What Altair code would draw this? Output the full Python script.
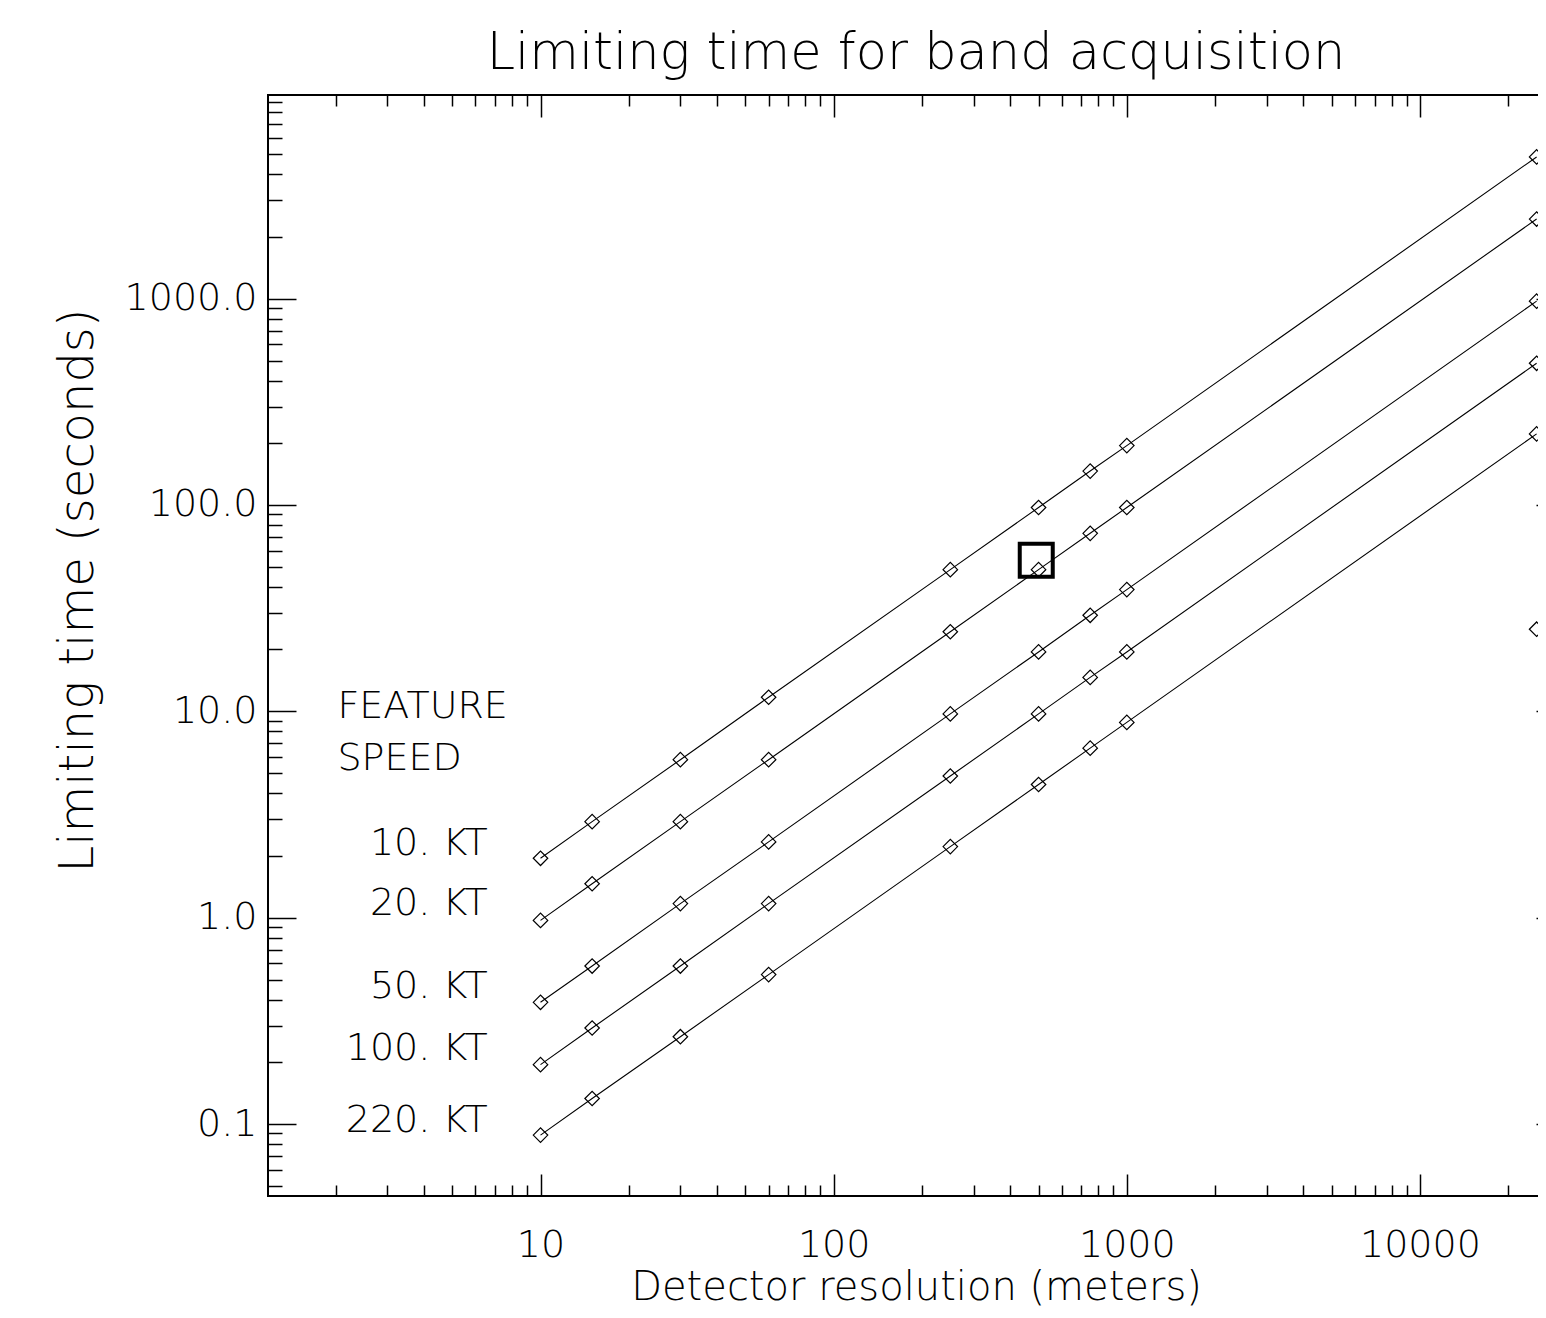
import altair as alt
import pandas as pd

FONT = "DejaVu Sans"
WEIGHT = 200

# ---------------- data ----------------
resolution_m = [10, 15, 30, 60, 250, 500, 750, 1000, 25000]
speed_names = ["10 KT", "20 KT", "50 KT", "100 KT", "220 KT"]
time_10kt = [1.94, 2.92, 5.83, 11.7, 48.6, 97.2, 146, 194, 4860]
time_20kt = [0.97, 1.46, 2.92, 5.83, 24.3, 48.6, 72.9, 97.2, 2430]
time_50kt = [0.389, 0.583, 1.17, 2.33, 9.72, 19.4, 29.2, 38.9, 972]
time_100kt = [0.194, 0.292, 0.583, 1.17, 4.86, 9.72, 14.6, 19.4, 486]
time_220kt = [0.0884, 0.133, 0.265, 0.530, 2.21, 4.42, 6.63, 8.84, 221]

extra_x = [25000]
extra_y = [25]
highlight_x = [491]
highlight_y = [54]

header_text = ["FEATURE", "SPEED"]
header_x = [2.03, 2.03]
header_y = [10.5, 5.9]
kt_text = ["10. KT", "20. KT", "50. KT", "100. KT", "220. KT"]
kt_x = [6.6, 6.6, 6.6, 6.6, 6.6]
kt_y = [2.28, 1.16, 0.46, 0.23, 0.103]

x_major = [10, 100, 1000, 10000]
x_minor = [2, 3, 4, 5, 6, 7, 8, 9,
           20, 30, 40, 50, 60, 70, 80, 90,
           200, 300, 400, 500, 600, 700, 800, 900,
           2000, 3000, 4000, 5000, 6000, 7000, 8000, 9000,
           20000, 30000]
y_major = [0.1, 1, 10, 100, 1000]
y_minor = [0.05, 0.06, 0.07, 0.08, 0.09,
           0.2, 0.3, 0.4, 0.5, 0.6, 0.7, 0.8, 0.9,
           2, 3, 4, 5, 6, 7, 8, 9,
           20, 30, 40, 50, 60, 70, 80, 90,
           200, 300, 400, 500, 600, 700, 800, 900,
           2000, 3000, 4000, 5000, 6000, 7000, 8000, 9000]

# ---------------- tables ----------------
series = [time_10kt, time_20kt, time_50kt, time_100kt, time_220kt]
rows = []
for name, vals in zip(speed_names, series):
    for r, t in zip(resolution_m, vals):
        rows.append({"resolution": r, "time": t, "speed": name})
df = pd.DataFrame(rows)
df_extra = pd.DataFrame({"resolution": extra_x, "time": extra_y})
df_sq = pd.DataFrame({"resolution": highlight_x, "time": highlight_y})
df_head = pd.DataFrame({"x": header_x, "y": header_y, "label": header_text})
df_kt = pd.DataFrame({"x": kt_x, "y": kt_y, "label": kt_text})

W, H = 1296, 1101
xs = alt.Scale(type="log", domain=[1.176, 31000], nice=False)
ys = alt.Scale(type="log", domain=[0.0448, 9700], nice=False)

X_MAJ, X_MIN = 22, 11
Y_MAJ, Y_MIN = 28, 14

ax_xb_major = alt.Axis(orient="bottom", values=x_major, format="d",
                       tickSize=X_MAJ, offset=-X_MAJ, labelPadding=30,
                       labelOverlap=False, labelFlush=False,
                       title="Detector resolution (meters)",
                       titleX=W / 2, titleY=125, titleAlign="center",
                       titleBaseline="alphabetic", titleFontSize=40)
ax_xb_minor = alt.Axis(orient="bottom", values=x_minor, tickSize=X_MIN,
                       offset=-X_MIN, labels=False, title=None)
ax_xt_major = alt.Axis(orient="top", values=x_major, tickSize=X_MAJ,
                       offset=-X_MAJ, labels=False, title=None)
ax_xt_minor = alt.Axis(orient="top", values=x_minor, tickSize=X_MIN,
                       offset=-X_MIN, labels=False, title=None)

ax_yl_major = alt.Axis(orient="left", values=y_major, format=".1f",
                       tickSize=Y_MAJ, offset=-Y_MAJ, labelPadding=11,
                       labelOverlap=False, labelFlush=False,
                       title="Limiting time (seconds)",
                       titleX=-204, titleY=495, titleAngle=270,
                       titleAlign="center", titleBaseline="alphabetic",
                       titleFontSize=48)
ax_yl_minor = alt.Axis(orient="left", values=y_minor, tickSize=Y_MIN,
                       offset=-Y_MIN, labels=False, title=None)
ax_yr_major = alt.Axis(orient="right", values=y_major, tickSize=Y_MAJ,
                       offset=-Y_MAJ, labels=False, title=None)
ax_yr_minor = alt.Axis(orient="right", values=y_minor, tickSize=Y_MIN,
                       offset=-Y_MIN, labels=False, title=None)

lines = alt.Chart(df).mark_line(color="black", strokeWidth=1.1).encode(
    x=alt.X("resolution:Q", scale=xs, axis=ax_xb_major),
    y=alt.Y("time:Q", scale=ys, axis=ax_yl_major),
    detail="speed:N",
)

points = alt.Chart(df).mark_point(
    shape="diamond", size=210, filled=False, color="black",
    strokeWidth=1.2, opacity=1
).encode(
    x=alt.X("resolution:Q", scale=xs, axis=ax_xb_minor),
    y=alt.Y("time:Q", scale=ys, axis=ax_yl_minor),
)

extra = alt.Chart(df_extra).mark_point(
    shape="diamond", size=210, filled=False, color="black",
    strokeWidth=1.2, opacity=1
).encode(
    x=alt.X("resolution:Q", scale=xs, axis=ax_xt_major),
    y=alt.Y("time:Q", scale=ys, axis=ax_yr_major),
)

square = alt.Chart(df_sq).mark_point(
    shape="square", size=1089, filled=False, color="black",
    strokeWidth=4, opacity=1
).encode(
    x=alt.X("resolution:Q", scale=xs, axis=ax_xt_minor),
    y=alt.Y("time:Q", scale=ys, axis=ax_yr_minor),
)

head = alt.Chart(df_head).mark_text(
    align="left", baseline="middle", font=FONT, fontSize=38,
    fontWeight=WEIGHT, color="black"
).encode(
    x=alt.X("x:Q", scale=xs, axis=None),
    y=alt.Y("y:Q", scale=ys, axis=None),
    text="label:N",
)

kt = alt.Chart(df_kt).mark_text(
    align="right", baseline="middle", font=FONT, fontSize=38,
    fontWeight=WEIGHT, color="black"
).encode(
    x=alt.X("x:Q", scale=xs, axis=None),
    y=alt.Y("y:Q", scale=ys, axis=None),
    text="label:N",
)

chart = alt.layer(lines, points, extra, square, head, kt).resolve_axis(
    x="independent", y="independent"
).properties(
    width=W,
    height=H,
    title=alt.TitleParams(
        "Limiting time for band acquisition", font=FONT, fontSize=51,
        fontWeight=WEIGHT, color="black", anchor="middle",
        baseline="alphabetic", offset=-26
    ),
    autosize=alt.AutoSizeParams(type="none"),
    padding={"left": 260, "top": 87, "right": -26, "bottom": 114},
).configure_view(
    stroke="black", strokeWidth=2
).configure_axis(
    grid=False, domain=False, tickColor="black", tickWidth=1.5,
    labelFont=FONT, labelFontSize=38, labelFontWeight=WEIGHT,
    labelColor="black", titleFont=FONT, titleFontWeight=WEIGHT,
    titleColor="black"
)

chart.save("out.html", embed_options={"renderer": "svg", "actions": False})
